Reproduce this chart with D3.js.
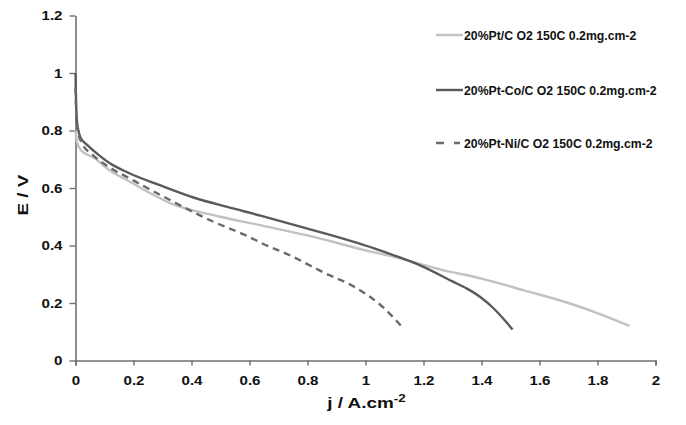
<!DOCTYPE html>
<html>
<head>
<meta charset="utf-8">
<script src="https://cdn.jsdelivr.net/npm/d3@7"></script>
<style>
  html, body { margin: 0; padding: 0; background: #fff; }
  svg { display: block; font-family: "Liberation Sans", Arial, sans-serif; }
</style>
</head>
<body>
<svg id="chart" width="686" height="425"></svg>
<script>
// Polarisation curves: current density j (A/cm²) vs cell potential E (V)
const ptJ = [0, 0.005, 0.02, 0.062, 0.12, 0.18, 0.33, 0.5, 0.64, 0.8, 1.03, 1.1, 1.26, 1.4, 1.55, 1.7, 1.82, 1.91];
const ptE = [0.80, 0.76, 0.73, 0.706, 0.66, 0.626, 0.546, 0.50, 0.47, 0.435, 0.376, 0.36, 0.316, 0.285, 0.243, 0.20, 0.157, 0.12];

const ptCoJ = [0, 0.002, 0.005, 0.01, 0.017, 0.04, 0.062, 0.12, 0.18, 0.293, 0.407, 0.52, 0.638, 0.8, 1.03, 1.1, 1.19, 1.3, 1.35, 1.397, 1.443, 1.48, 1.507];
const ptCoE = [1.0, 0.9, 0.83, 0.80, 0.776, 0.75, 0.73, 0.685, 0.654, 0.609, 0.567, 0.535, 0.504, 0.459, 0.39, 0.365, 0.33, 0.275, 0.25, 0.22, 0.18, 0.14, 0.108];

const ptNiJ = [0, 0.003, 0.01, 0.02, 0.062, 0.12, 0.18, 0.33, 0.466, 0.603, 0.638, 0.741, 0.856, 0.972, 1.062, 1.131];
const ptNiE = [0.95, 0.85, 0.79, 0.76, 0.713, 0.67, 0.637, 0.556, 0.487, 0.428, 0.41, 0.365, 0.306, 0.25, 0.184, 0.111];

const seriesNames = [
  "20%Pt/C O2 150C 0.2mg.cm-2",
  "20%Pt-Co/C O2 150C 0.2mg.cm-2",
  "20%Pt-Ni/C O2 150C 0.2mg.cm-2"
];

const xTicks = [0, 0.2, 0.4, 0.6, 0.8, 1, 1.2, 1.4, 1.6, 1.8, 2];
const yTicks = [0, 0.2, 0.4, 0.6, 0.8, 1, 1.2];

const svg = d3.select("#chart");

const x = d3.scaleLinear().domain([0, 2]).range([75.5, 655.5]);
const y = d3.scaleLinear().domain([0, 1.2]).range([360.5, 15.5]);

const styles = [
  { color: "#c2c2c2", dash: null },
  { color: "#5a5a5a", dash: null },
  { color: "#6a6a6a", dash: "7,5" }
];

const series = [
  ptJ.map((j, i) => [j, ptE[i]]),
  ptCoJ.map((j, i) => [j, ptCoE[i]]),
  ptNiJ.map((j, i) => [j, ptNiE[i]])
];

const line = d3.line()
  .x(d => x(d[0]))
  .y(d => y(d[1]))
  .curve(d3.curveMonotoneX);

// Widen a text run along its baseline (the lettering is broad and squat)
function widen(sel, factor) {
  sel.each(function () {
    const len = this.getComputedTextLength();
    d3.select(this)
      .attr("textLength", len * factor)
      .attr("lengthAdjust", "spacingAndGlyphs");
  });
}

// Axes
const axisColor = "#707070";
const fmt = d => String(d);

const xAxis = svg.append("g")
  .attr("transform", `translate(0,${y(0)})`)
  .call(d3.axisBottom(x).tickValues(xTicks).tickFormat(fmt).tickSize(5).tickSizeOuter(5).tickPadding(10));

const yAxis = svg.append("g")
  .attr("transform", `translate(${x(0)},0)`)
  .call(d3.axisLeft(y).tickValues(yTicks).tickFormat(fmt).tickSize(6).tickSizeOuter(0).tickPadding(7));

[xAxis, yAxis].forEach(g => {
  g.select(".domain").attr("stroke", axisColor).attr("stroke-width", 1.6);
  g.selectAll(".tick line").attr("stroke", axisColor).attr("stroke-width", 1.4);
  g.selectAll(".tick text")
    .attr("fill", "#111")
    .style("font-size", "13.5px")
    .style("font-weight", "bold")
    .style("font-family", "'Liberation Sans', Arial, sans-serif")
    .call(widen, 1.12);
});

// Curves
series.forEach((pts, k) => {
  svg.append("path")
    .datum(pts)
    .attr("fill", "none")
    .attr("stroke", styles[k].color)
    .attr("stroke-width", 2.4)
    .attr("stroke-linejoin", "round")
    .attr("stroke-dasharray", styles[k].dash)
    .attr("d", line);
});

// Axis titles
svg.append("text")
  .attr("transform", `translate(28,${y(0.575)}) rotate(-90)`)
  .attr("text-anchor", "middle")
  .attr("fill", "#111")
  .style("font-size", "15px")
  .style("font-weight", "bold")
  .text("E / V")
  .call(widen, 1.25);

const xt = svg.append("text")
  .attr("x", x(1) + 1)
  .attr("y", 408)
  .attr("text-anchor", "middle")
  .attr("fill", "#111")
  .style("font-size", "15.5px")
  .style("font-weight", "bold");
xt.append("tspan").text("j / A.cm");
xt.append("tspan").attr("dy", -6).style("font-size", "11px").text("-2");
widen(xt, 1.22);

// Legend
const legendY = [35, 90, 143];
const legend = svg.append("g");
seriesNames.forEach((name, k) => {
  const g = legend.append("g").attr("transform", `translate(0,${legendY[k]})`);
  g.append("line")
    .attr("x1", 436).attr("x2", 463)
    .attr("y1", 0).attr("y2", 0)
    .attr("stroke", styles[k].color)
    .attr("stroke-width", 2.4)
    .attr("stroke-dasharray", k === 2 ? "8,10,6" : null);
  g.append("text")
    .attr("x", 464)
    .attr("y", 4.5)
    .attr("fill", "#111")
    .style("font-size", "12.5px")
    .style("font-weight", "bold")
    .text(name)
    .call(widen, 0.98);
});
</script>
</body>
</html>
